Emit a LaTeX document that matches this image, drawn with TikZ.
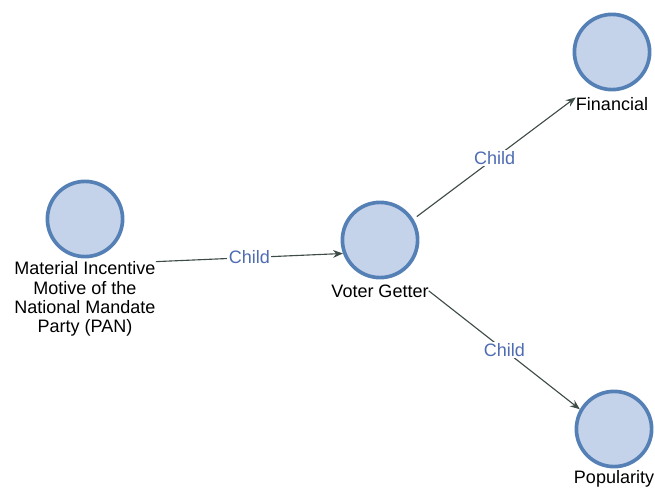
\documentclass[tikz,border=0pt]{standalone}
\usepackage{fontspec}
\setmainfont{Liberation Sans}
\usetikzlibrary{positioning,arrows.meta}
\definecolor{ringblue}{RGB}{84,128,182}
\definecolor{discfill}{RGB}{196,211,234}
\definecolor{edgegray}{RGB}{62,76,72}
\definecolor{childblue}{RGB}{78,108,178}

\begin{document}
\begin{tikzpicture}[x=0.025cm,y=-0.025cm,
  disc/.style={circle,draw=ringblue,fill=discfill,line width=2.6pt,minimum size=1.88cm,inner sep=0pt},
  caption/.style={font=\fontsize{12.8}{13.6}\selectfont,align=center,inner sep=0pt},
  link/.style={edgegray,line width=0.8pt,-{Stealth[length=7pt,width=5.5pt]}},
  childlbl/.style={font=\fontsize{12.8}{13.6}\selectfont,text=childblue,fill=white,inner sep=1pt}]
\useasboundingbox (0,0) rectangle (655,491);
% nodes
\node[disc] (pan) at (85,219) {};
\node[caption,below=0.08cm of pan] (panlbl) {Material Incentive\\Motive of the\\National Mandate\\Party (PAN)};
\node[disc] (voter) at (380,240) {};
\node[caption,below=0.12cm of voter] (voterlbl) {Voter Getter};
\node[disc] (fin) at (612,52) {};
\node[caption,below=0.15cm of fin] (finlbl) {Financial};
\node[disc] (pop) at (614,429) {};
\node[caption,below=0.05cm of pop] (poplbl) {Popularity};
% edges
\draw[link] (panlbl.north east) -- node[childlbl] {Child} (voter.200);
\draw[link,shorten <=3pt] (voter.32) -- node[childlbl] {Child} (finlbl.north west);
\draw[link] (voterlbl.east) -- node[childlbl] {Child} (pop.150);
\end{tikzpicture}
\end{document}
